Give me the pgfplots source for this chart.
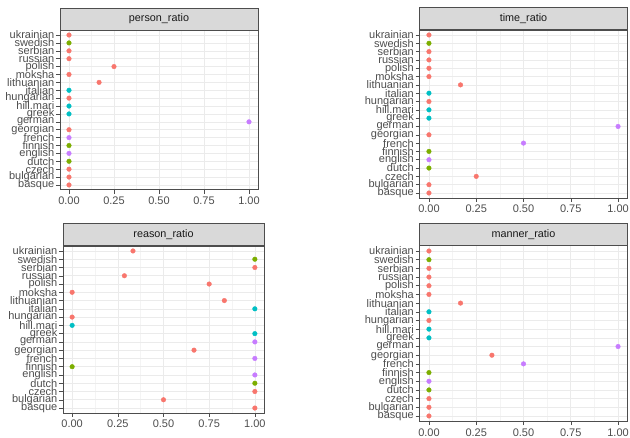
\documentclass[border=0pt]{standalone}
\usepackage{fontspec}
\setmainfont{Liberation Sans}
\usepackage{pgfplots}
\usepackage{pgfplotstable}
\pgfplotsset{compat=1.18}
\definecolor{cr}{HTML}{F8766D}
\definecolor{cg}{HTML}{7CAE00}
\definecolor{cc}{HTML}{00BFC4}
\definecolor{cp}{HTML}{C77CFF}
\definecolor{bordercol}{HTML}{4D4D4D}
\definecolor{labcol}{HTML}{4D4D4D}
\definecolor{stripfill}{HTML}{D9D9D9}
\definecolor{gridmaj}{HTML}{EBEBEB}
\definecolor{gridmin}{HTML}{F4F4F4}

% row index: 1 = basque ... 20 = ukrainian
\pgfplotstableread{
y x c
1 0 r
2 0 r
3 0 r
4 0 g
5 0 p
6 0 g
7 0 p
8 0 r
9 1 p
10 0 c
11 0 c
12 0 r
13 0 c
14 0.167 r
15 0 r
16 0.25 r
17 0 r
18 0 r
19 0 g
20 0 r
}\tperson
\pgfplotstableread{
y x c
1 0 r
2 0 r
3 0.25 r
4 0 g
5 0 p
6 0 g
7 0.5 p
8 0 r
9 1 p
10 0 c
11 0 c
12 0 r
13 0 c
14 0.167 r
15 0 r
16 0 r
17 0 r
18 0 r
19 0 g
20 0 r
}\ttime
\pgfplotstableread{
y x c
1 1 r
2 0.5 r
3 1 r
4 1 g
5 1 p
6 0 g
7 1 p
8 0.667 r
9 1 p
10 1 c
11 0 c
12 0 r
13 1 c
14 0.833 r
15 0 r
16 0.75 r
17 0.286 r
18 1 r
19 1 g
20 0.333 r
}\treason
\pgfplotstableread{
y x c
1 0 r
2 0 r
3 0 r
4 0 g
5 0 p
6 0 g
7 0.5 p
8 0.333 r
9 1 p
10 0 c
11 0 c
12 0 r
13 0 c
14 0.167 r
15 0 r
16 0 r
17 0 r
18 0 r
19 0 g
20 0 r
}\tmanner

\pgfplotsset{
  panel/.style={
    scale only axis, anchor=south west,
    xmin=-0.05, xmax=1.05, ymin=0.4, ymax=20.6,
    xtick={0,0.25,0.5,0.75,1},
    xticklabels={0.00,0.25,0.50,0.75,1.00},
    ytick={1,...,20},
    yticklabels={basque,bulgarian,czech,dutch,english,finnish,french,georgian,german,greek,hill.mari,hungarian,italian,lithuanian,moksha,polish,russian,serbian,swedish,ukrainian},
    minor x tick num=1,
    xmajorgrids, xminorgrids, ymajorgrids,
    major grid style={draw=gridmaj, line width=0.6pt},
    minor grid style={draw=gridmin, line width=0.4pt},
    axis line style={draw=bordercol, line width=0.6pt},
    tick align=outside, major tick length=4pt, minor tick length=0pt,
    xtick pos=bottom, ytick pos=left,
    tick style={draw=bordercol, line width=0.5pt},
    ticklabel style={font=\fontsize{11}{11}\selectfont, text=labcol},
    yticklabel style={inner sep=1.5pt},
    xticklabel style={inner sep=2pt, yshift=-1pt},
    every axis title/.style={at={(0.5,1)}, anchor=south, draw=bordercol, fill=stripfill, line width=0.6pt,
      minimum height=22pt, inner sep=0pt, text=black!90, font=\fontsize{10.8}{11}\selectfont},
    scatter/classes={
      r={mark=*, draw=cr, fill=cr},
      g={mark=*, draw=cg, fill=cg},
      c={mark=*, draw=cc, fill=cc},
      p={mark=*, draw=cp, fill=cp}},
    mark size=2.3pt,
  },
  pts/.style={only marks, scatter, scatter src=explicit symbolic},
}

\begin{document}
\begin{tikzpicture}
\path[use as bounding box] (0pt,0pt) rectangle (630pt,438pt);

\begin{axis}[panel, at={(60pt,248.3pt)}, width=198pt, height=159.4pt,
  title={person\_ratio}, title style={minimum width=198pt}]
\addplot[pts] table[x=x, y=y, meta=c] {\tperson};
\end{axis}

\begin{axis}[panel, at={(419.5pt,240pt)}, width=208pt, height=168pt,
  title={time\_ratio}, title style={minimum width=208pt}]
\addplot[pts] table[x=x, y=y, meta=c] {\ttime};
\end{axis}

\begin{axis}[panel, at={(63pt,25pt)}, width=201pt, height=167pt,
  title={reason\_ratio}, title style={minimum width=201pt}]
\addplot[pts] table[x=x, y=y, meta=c] {\treason};
\end{axis}

\begin{axis}[panel, at={(419.5pt,16.8pt)}, width=208pt, height=175.4pt,
  title={manner\_ratio}, title style={minimum width=208pt}]
\addplot[pts] table[x=x, y=y, meta=c] {\tmanner};
\end{axis}
\end{tikzpicture}
\end{document}
